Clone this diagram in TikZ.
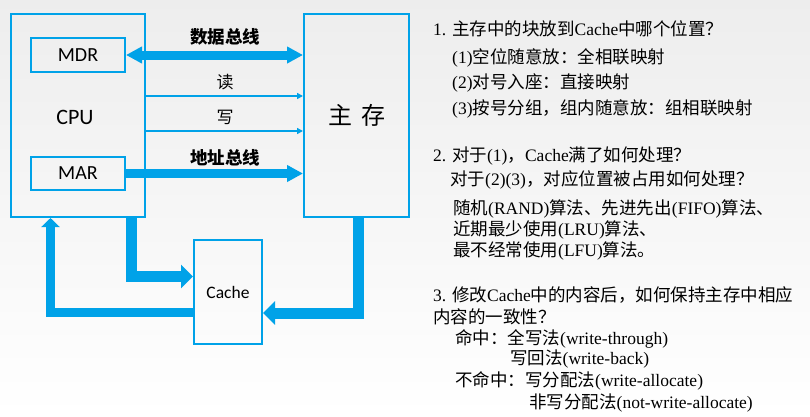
\documentclass[tikz,border=0pt]{standalone}
\usepackage{fontspec}
\setmainfont{Liberation Serif}
\newfontfamily\cjk{Noto Sans CJK SC}
\newfontfamily\calib{Carlito}
\usetikzlibrary{arrows.meta}
\definecolor{cblue}{RGB}{0,162,232}
\newcommand\zh[1]{{\cjk #1}}
\begin{document}
\begin{tikzpicture}[x=1pt,y=-1pt,
  box/.style={draw=cblue, line width=2pt, inner sep=0pt},
  boxlbl/.style={font=\calib\fontsize{20}{23}\selectfont},
  busarrow/.style={draw=cblue, line width=9pt},
  ctlarrow/.style={draw=cblue, line width=1.5pt, -{Triangle[length=6pt,width=6pt]}},
  fatarrow/.style={draw=cblue, line width=11pt, line join=miter, -{Triangle[length=12pt,width=23pt]}},
  buslbl/.style={inner sep=0pt, font=\cjk\fontsize{17}{20}\selectfont},
  busbold/.style={inner sep=0pt, font=\cjk\bfseries\fontsize{17.5}{20}\selectfont},
  rt/.style={anchor=base west, inner sep=0pt, font=\fontsize{17.5}{20}\selectfont}]
\path[use as bounding box, top color=black!7, bottom color=white] (0,0) rectangle (810,416);

% boxes
\node[box, minimum width=134pt, minimum height=203pt] (cpu) at (78,115.5) {};
\node[font=\calib\fontsize{22}{25}\selectfont, inner sep=0pt] (cpulbl) at (75,117) {CPU};
\node[box, boxlbl, minimum width=94pt, minimum height=34pt] (mdr) at (78,55) {MDR};
\node[box, boxlbl, minimum width=94pt, minimum height=33pt] (mar) at (78,173.5) {MAR};
\node[box, minimum width=105pt, minimum height=203pt, font=\cjk\fontsize{24}{26}\selectfont] (mem) at (356.5,115.5) {主\hspace{9pt}存};
\node[box, minimum width=68pt, minimum height=104pt, font=\calib\fontsize{17.5}{20}\selectfont] (cache) at (228,292) {Cache};

% buses
\draw[busarrow, {Triangle[length=16pt,width=16pt]}-{Triangle[length=16pt,width=16pt]}] (mdr.east) -- (mdr.east -| mem.west);
\draw[busarrow, -{Triangle[length=16pt,width=16pt]}] (mar.east) -- (mar.east -| mem.west);
\coordinate (rd) at (0,96);
\coordinate (wr) at (0,131);
\draw[ctlarrow] (cpu.east |- rd) -- (mem.west |- rd);
\draw[ctlarrow] (cpu.east |- wr) -- (mem.west |- wr);

\node[busbold] (ldata) at (225,37) {数据总线};
\node[buslbl] (lrd) at (225,82) {读};
\node[buslbl] (lwr) at (225,117) {写};
\node[busbold] (laddr) at (225,158) {地址总线};

% cache paths
\coordinate (k1) at (131.5,276.5);
\coordinate (k2) at (358,313);
\coordinate (k3) at (50.5,312.5);
\draw[fatarrow] (cpu.south -| k1) |- (cache.west |- k1);
\draw[fatarrow] (mem.south -| k2) |- (cache.east |- k2);
\draw[fatarrow, line width=9pt, -{Triangle[length=9pt,width=18pt]}] (cache.west |- k3) -| (cpu.south -| k3);

% right text
\node[rt] (t1) at (433,35) {1. \zh{主存中的块放到}Cache\zh{中哪个位置？}};
\node[rt] (t2) at (452,63) {(1)\zh{空位随意放：全相联映射}};
\node[rt] (t3) at (452,88) {(2)\zh{对号入座：直接映射}};
\node[rt] (t4) at (452,114) {(3)\zh{按号分组，组内随意放：组相联映射}};
\node[rt] (t5) at (433,161) {2. \zh{对于}(1)\zh{，}Cache\zh{满了如何处理？}};
\node[rt] (t6) at (450,185) {\zh{对于}(2)(3)\zh{，对应位置被占用如何处理？}};
\node[rt] (t7) at (453,214) {\zh{随机}(RAND)\zh{算法、先进先出}(FIFO)\zh{算法、}};
\node[rt] (t8) at (453,235) {\zh{近期最少使用}(LRU)\zh{算法、}};
\node[rt] (t9) at (453,256) {\zh{最不经常使用}(LFU)\zh{算法。}};
\node[rt] (t10) at (433,301) {3. \zh{修改}Cache\zh{中的内容后，如何保持主存中相应}};
\node[rt] (t11) at (433,323) {\zh{内容的一致性？}};
\node[rt] (t12) at (455,344) {\zh{命中：全写法}(write-through)};
\node[rt] (t13) at (510,364) {\zh{写回法}(write-back)};
\node[rt] (t14) at (455,386) {\zh{不命中：写分配法}(write-allocate)};
\node[rt] (t15) at (529,408) {\zh{非写分配法}(not-write-allocate)};
\end{tikzpicture}
\end{document}
